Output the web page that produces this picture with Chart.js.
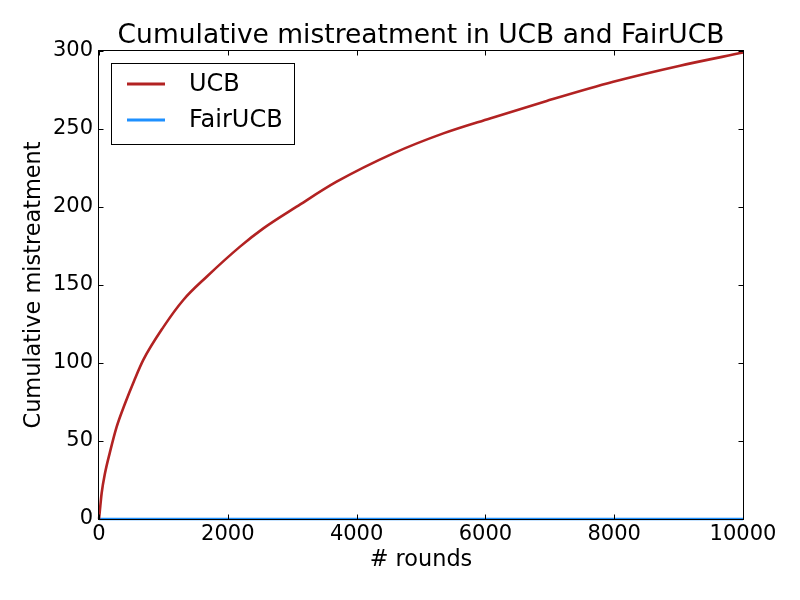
<!DOCTYPE html>
<html>
<head>
<meta charset="utf-8">
<script src="https://cdn.jsdelivr.net/npm/chart.js@4"></script>
<style>
  html, body { margin: 0; padding: 0; background: #ffffff; }
  #c { display: block; }
</style>
</head>
<body>
<canvas id="c" width="800" height="600"></canvas>
<script>
const chartTitle = 'Cumulative mistreatment in UCB and FairUCB';
const xAxisTitle = '# rounds';
const yAxisTitle = 'Cumulative mistreatment';
const seriesNames = ['UCB', 'FairUCB'];
const rounds = [0, 10, 41, 93, 171, 274, 404, 549, 688, 999, 1309, 1672, 2190, 2552, 3069, 3690, 4570, 5347, 6071, 6952, 7986, 9022, 10000];
const ucbValues = [0, 4, 16.5, 29.3, 43, 59, 74, 89, 102, 123, 140.4, 155.3, 174.6, 186.3, 200.2, 216.2, 234.4, 247.2, 256.8, 268, 280.3, 290.6, 299];
const fairRounds = [0, 10000];
const fairValues = [0, 0];
const xTickValues = [0, 2000, 4000, 6000, 8000, 10000];
const yTickValues = [0, 50, 100, 150, 200, 250, 300];

const FONT = 'DejaVu Sans';

const framePlugin = {
  id: 'frameTicks',
  afterDatasetsDraw(chart) {
    const ctx = chart.ctx;
    const a = chart.chartArea;
    const xs = chart.scales.x, ys = chart.scales.y;
    ctx.save();
    ctx.strokeStyle = '#000000';
    ctx.lineWidth = 1;
    const L = Math.round(a.left) - 0.5, R = Math.round(a.right) + 0.5;
    const T = Math.round(a.top) - 0.5, B = Math.round(a.bottom) + 0.5;
    ctx.strokeRect(L, T, R - L, B - T);
    const tl = 5;
    ctx.beginPath();
    xTickValues.forEach(v => {
      const p = Math.round(xs.getPixelForValue(v)) + 0.5;
      ctx.moveTo(p, B); ctx.lineTo(p, B - tl);
      ctx.moveTo(p, T); ctx.lineTo(p, T + tl);
    });
    yTickValues.forEach(v => {
      const p = Math.round(ys.getPixelForValue(v)) + 0.5;
      ctx.moveTo(L, p); ctx.lineTo(L + tl, p);
      ctx.moveTo(R, p); ctx.lineTo(R - tl, p);
    });
    ctx.stroke();

    // title centred over the axes
    ctx.fillStyle = '#000000';
    ctx.font = '26.5px "' + FONT + '"';
    ctx.textAlign = 'center';
    ctx.textBaseline = 'alphabetic';
    ctx.fillText(chartTitle, (a.left + a.right) / 2, 43);

    // legend box
    const bx = 111, by = 63, bw = 183, bh = 81;
    ctx.fillStyle = '#ffffff';
    ctx.fillRect(bx, by, bw, bh);
    ctx.strokeStyle = '#000000';
    ctx.lineWidth = 1;
    ctx.strokeRect(bx + 0.5, by + 0.5, bw, bh);
    ctx.font = '24px "' + FONT + '"';
    ctx.textAlign = 'left';
    ctx.textBaseline = 'middle';
    chart.data.datasets.forEach((ds, i) => {
      const y = 84 + i * 36;
      ctx.strokeStyle = ds.borderColor;
      ctx.lineWidth = 3;
      ctx.beginPath();
      ctx.moveTo(127, y); ctx.lineTo(165, y);
      ctx.stroke();
      ctx.fillStyle = '#000000';
      ctx.fillText(ds.label, 189, y + 1);
    });
    ctx.restore();
  }
};

const ucbData = rounds.map((r, i) => ({ x: r, y: ucbValues[i] }));
const fairData = fairRounds.map((r, i) => ({ x: r, y: fairValues[i] }));

new Chart(document.getElementById('c'), {
  type: 'line',
  data: {
    datasets: [
      { label: seriesNames[0], data: ucbData, borderColor: '#B22222', borderWidth: 2.6, pointRadius: 0, fill: false, cubicInterpolationMode: 'monotone', clip: 4 },
      { label: seriesNames[1], data: fairData, borderColor: '#1E90FF', borderWidth: 2.6, pointRadius: 0, fill: false, clip: 4 }
    ]
  },
  options: {
    responsive: false,
    animation: false,
    devicePixelRatio: 1,
    layout: { padding: { left: 0, right: 57, top: 51, bottom: 0 } },
    plugins: {
      legend: { display: false },
      title: { display: false },
      tooltip: { enabled: false }
    },
    scales: {
      x: {
        type: 'linear',
        min: 0, max: 10000,
        grid: { display: false, drawTicks: false },
        border: { display: false },
        afterFit(s) { s.height = 81; },
        afterBuildTicks(s) { s.ticks = xTickValues.map(v => ({ value: v })); },
        ticks: {
          color: '#000000',
          font: { family: FONT, size: 21 },
          padding: 3,
          maxRotation: 0,
          autoSkip: false,
          callback: v => String(v)
        },
        title: {
          display: true, text: xAxisTitle, color: '#000000',
          font: { family: FONT, size: 22.4 },
          padding: { top: 0, bottom: 26 }
        }
      },
      y: {
        type: 'linear',
        min: 0, max: 300,
        grid: { display: false, drawTicks: false },
        border: { display: false },
        afterFit(s) { s.width = 99; },
        afterBuildTicks(s) { s.ticks = yTickValues.map(v => ({ value: v })); },
        ticks: {
          color: '#000000',
          font: { family: FONT, size: 21 },
          padding: 6,
          autoSkip: false,
          callback: v => String(v)
        },
        title: {
          display: true, text: yAxisTitle, color: '#000000',
          font: { family: FONT, size: 22.4 },
          padding: { top: 21, bottom: 0 }
        }
      }
    }
  },
  plugins: [framePlugin]
});
</script>
</body>
</html>
